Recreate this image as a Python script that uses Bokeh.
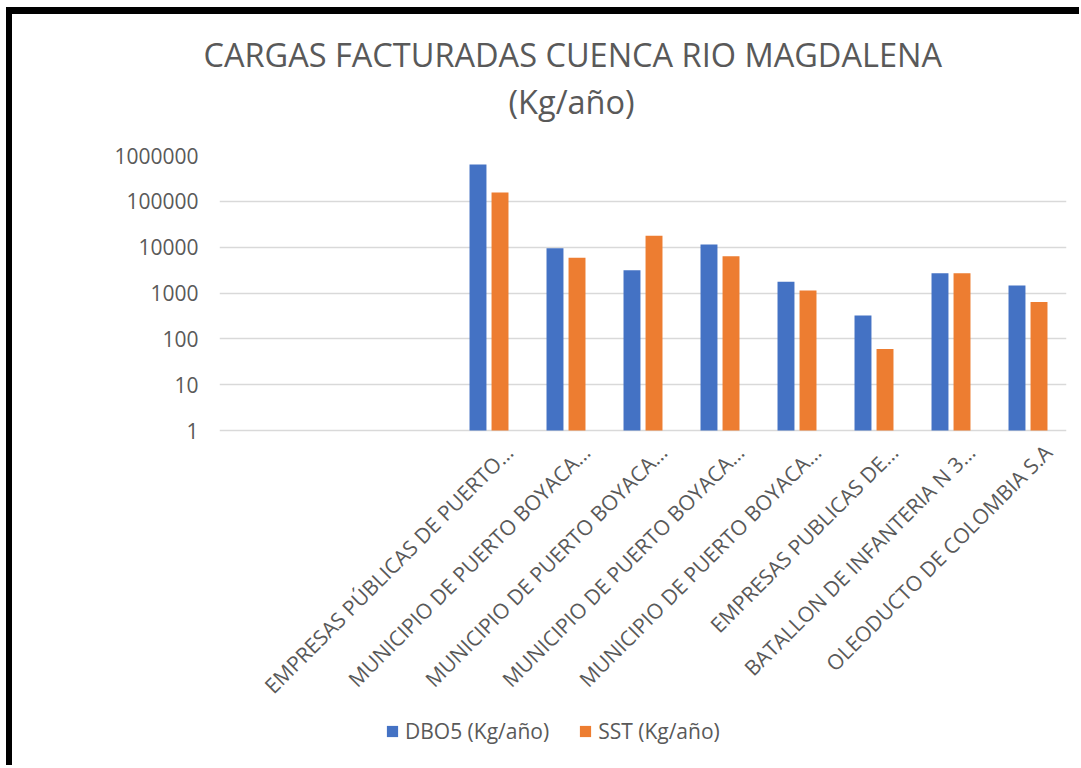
import math
import numpy as np
from bokeh.plotting import figure
from bokeh.models import (FixedTicker, NumeralTickFormatter, Legend, LegendItem,
                          Title, ColumnDataSource, Range1d)
from bokeh.core.properties import value
from bokeh.embed import file_html
from bokeh.resources import INLINE

# ---- data ----
categories = ["", "", "",
              "EMPRESAS PÚBLICAS DE PUERTO…",
              "MUNICIPIO DE PUERTO BOYACA…",
              "MUNICIPIO DE PUERTO BOYACA…",
              "MUNICIPIO DE PUERTO BOYACA…",
              "MUNICIPIO DE PUERTO BOYACA…",
              "EMPRESAS PUBLICAS DE…",
              "BATALLON DE INFANTERIA N 3…",
              "OLEODUCTO DE COLOMBIA S.A"]
dbo5 = [np.nan, np.nan, np.nan, 635000, 9500, 3150, 11500, 1770, 324, 2700, 1450]
sst = [np.nan, np.nan, np.nan, 155000, 5870, 17800, 6360, 1140, 60, 2700, 635]
series_names = ["DBO5 (Kg/año)", "SST (Kg/año)"]
y_ticks = [1, 10, 100, 1000, 10000, 100000, 1000000]
title_lines = ["CARGAS FACTURADAS CUENCA RIO MAGDALENA", "(Kg/año)"]

FONT = "Open Sans"
TXT = "#595959"
GRID = "#D9D9D9"
BLUE = "#4472C4"
ORANGE = "#ED7D31"

idx = np.arange(len(categories))
dodge_off = 0.143
bar_w = 0.22
label_shift = 0.26

# layout: the value axis (1 .. 1e6) occupies the top 275 px of a taller frame,
# the room below it holds the rotated category labels and the legend
PLOT_H = 275
FRAME_H = 605
DECADE_PX = PLOT_H / 6.0
Y_START = 10 ** (-(FRAME_H - PLOT_H) / DECADE_PX)
LABEL_Y = 10 ** (-18 / DECADE_PX)

def src(vals, off):
    v = np.array(vals, dtype=float)
    m = ~np.isnan(v)
    return ColumnDataSource(dict(x=idx[m] + off, top=v[m]))

p = figure(frame_width=847, frame_height=FRAME_H, output_backend="svg", toolbar_location=None,
           y_axis_type="log", x_axis_location=None,
           x_range=Range1d(-0.5, len(categories) - 0.5),
           y_range=Range1d(Y_START, 1000000),
           min_border_left=207, min_border_right=13, min_border_top=141,
           min_border_bottom=5, title=None)
p.styles = {"border-top": "7px solid black", "border-left": "6px solid black",
            "margin-left": "6px", "margin-top": "7px"}
p.outline_line_color = None
p.background_fill_color = "white"
p.border_fill_color = "white"

r1 = p.vbar(x="x", top="top", bottom=1, width=bar_w, source=src(dbo5, -dodge_off),
            fill_color=BLUE, line_color=None)
r2 = p.vbar(x="x", top="top", bottom=1, width=bar_w, source=src(sst, dodge_off),
            fill_color=ORANGE, line_color=None)

# y axis
p.yaxis.ticker = FixedTicker(ticks=y_ticks)
p.yaxis.formatter = NumeralTickFormatter(format="0")
p.yaxis.axis_line_color = None
p.yaxis.major_tick_line_color = None
p.yaxis.minor_tick_line_color = None
p.yaxis.major_tick_out = 0
p.yaxis.major_label_standoff = 21
p.yaxis.major_label_text_font = FONT
p.yaxis.major_label_text_font_size = "21px"
p.yaxis.major_label_text_color = TXT
p.ygrid.grid_line_color = GRID
p.ygrid.grid_line_width = 1.5
p.ygrid.minor_grid_line_color = None
p.xgrid.grid_line_color = None

# category labels (rotated 45 degrees, ending just below the baseline)
lab_src = ColumnDataSource(dict(x=idx + label_shift,
                                y=[LABEL_Y] * len(categories),
                                text=categories))
p.text(x="x", y="y", text="text", source=lab_src, angle=math.pi / 4,
       text_align="right", text_baseline="middle",
       text_font=value(FONT), text_font_size="21px", text_color=TXT)

# title: spacer nearest the frame, then line 2, then line 1
p.add_layout(Title(text=" ", align="left", standoff=29, text_font=FONT,
                   text_font_size="1px", text_color=TXT), "above")
p.add_layout(Title(text=title_lines[1], align="left", offset=289, standoff=0,
                   text_font=FONT, text_font_size="32.5px", text_font_style="normal",
                   text_color=TXT), "above")
p.add_layout(Title(text=title_lines[0], align="left", offset=-16, standoff=0,
                   text_font=FONT, text_font_size="32.5px", text_font_style="normal",
                   text_color=TXT), "above")

legend = Legend(items=[LegendItem(label=series_names[0], renderers=[r1]),
                       LegendItem(label=series_names[1], renderers=[r2])],
                orientation="horizontal", location=(166, 15),
                glyph_width=14, glyph_height=14, label_standoff=6, spacing=29,
                label_height=24, margin=0, padding=0,
                label_text_font=FONT, label_text_font_size="21px",
                label_text_color=TXT, border_line_color=None,
                background_fill_alpha=0)
p.add_layout(legend, "center")

open("out.html", "w").write(file_html(p, INLINE))
